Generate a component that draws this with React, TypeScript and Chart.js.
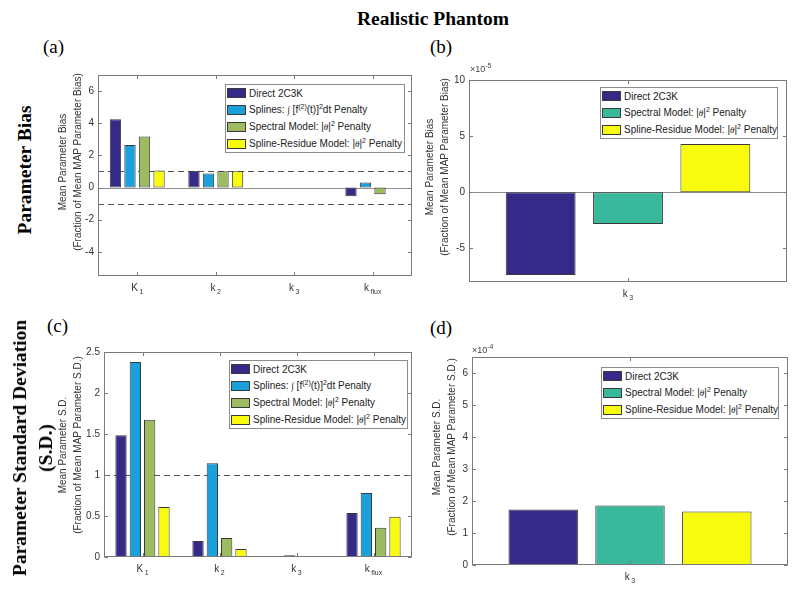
import React, { useEffect, useRef } from "react";
import { Chart, registerables } from "chart.js";
Chart.register(...registerables);

const SANS = '"Liberation Sans", Arial, Helvetica, sans-serif';
const SERIF = '"Liberation Serif", "Times New Roman", Times, serif';

// ---------- data ----------
const categories = ["K_1", "k_2", "k_3", "k_flux"];
const k3Category = ["k_3"];

const seriesNames = [
  "Direct 2C3K",
  "Splines: ∫ [f^{(2)}(t)]^{2}dt Penalty",
  "Spectral Model: |θ|^{2} Penalty",
  "Spline-Residue Model: |θ|^{2} Penalty",
];
const colorDirect = "#352A87";
const colorSplines = "#1AA1DC";
const colorSpectral = "#9DBB61";
const colorSpectralK3 = "#3AB89C";
const colorResidue = "#F9FB0E";

// (a) mean parameter bias
const biasDirect = [4.25, 1.04, -7.38e-5, -0.54];
const biasSplines = [2.65, 0.875, 0, 0.31];
const biasSpectral = [3.17, 1.02, -2.83e-5, -0.42];
const biasResidue = [1.06, 1.02, 4.29e-5, 0];
const biasRefLines = [1, -1];
const biasTicks = [-4, -2, 0, 2, 4, 6];
const biasRange = [-5.5, 7];

// (b) k3 bias
const k3BiasDirect = [-7.38e-5];
const k3BiasSpectral = [-2.83e-5];
const k3BiasResidue = [4.29e-5];
const k3BiasTicks = [-5e-5, 0, 5e-5, 10e-5];
const k3BiasRange = [-8e-5, 10e-5];

// (c) mean parameter S.D.
const sdDirect = [1.484, 0.195, 1.74e-4, 0.537];
const sdSplines = [2.378, 1.142, 0.02, 0.78];
const sdSpectral = [1.675, 0.232, 1.86e-4, 0.358];
const sdResidue = [0.61, 0.098, 1.67e-4, 0.492];
const sdRefLines = [1];
const sdTicks = [0, 0.5, 1, 1.5, 2, 2.5];
const sdRange = [0, 2.5];

// (d) k3 S.D.
const k3SdDirect = [1.736e-4];
const k3SdSpectral = [1.86e-4];
const k3SdResidue = [1.674e-4];
const k3SdTicks = [0, 1e-4, 2e-4, 3e-4, 4e-4, 5e-4, 6e-4];
const k3SdRange = [0, 6.5e-4];

// ---------- layout constants ----------
const AX_W = 50;
const AX_H = 28;
const PAD_T = 12;
const PAD_R = 10;

const axesPlugin = {
  id: "matlabAxes",
  beforeDatasetsDraw(chart: any, _a: any, opts: any) {
    const { ctx, chartArea: a } = chart;
    const y = chart.scales.y;
    ctx.save();
    ctx.lineWidth = 1;
    if (opts.baseline) {
      const py = Math.round(y.getPixelForValue(0)) + 0.5;
      ctx.strokeStyle = "#8f8f8f";
      ctx.beginPath();
      ctx.moveTo(a.left, py);
      ctx.lineTo(a.right, py);
      ctx.stroke();
    }
    ctx.setLineDash([6, 4]);
    ctx.strokeStyle = "#555";
    for (const v of opts.refLines || []) {
      const py = Math.round(y.getPixelForValue(v)) + 0.5;
      ctx.beginPath();
      ctx.moveTo(a.left, py);
      ctx.lineTo(a.right, py);
      ctx.stroke();
    }
    ctx.restore();
  },
  afterDatasetsDraw(chart: any, _a: any, opts: any) {
    const { ctx, chartArea: a } = chart;
    const x = chart.scales.x;
    const y = chart.scales.y;
    ctx.save();
    ctx.strokeStyle = "#7a7a7a";
    ctx.lineWidth = 1;
    const L = Math.round(a.left) + 0.5;
    const R = Math.round(a.right) - 0.5;
    const T = Math.round(a.top) + 0.5;
    const B = Math.round(a.bottom) - 0.5;
    ctx.strokeRect(L, T, R - L, B - T);
    const tl = 3.5;
    ctx.beginPath();
    for (const t of y.ticks) {
      const py = Math.round(y.getPixelForValue(t.value)) + 0.5;
      ctx.moveTo(L, py);
      ctx.lineTo(L + tl, py);
      ctx.moveTo(R, py);
      ctx.lineTo(R - tl, py);
    }
    (chart.data.labels as string[]).forEach((_l: string, i: number) => {
      const px = Math.round(x.getPixelForValue(i)) + 0.5;
      ctx.moveTo(px, B);
      ctx.lineTo(px, B - tl);
      ctx.moveTo(px, T);
      ctx.lineTo(px, T + tl);
    });
    ctx.stroke();

    ctx.fillStyle = "#333";
    ctx.textBaseline = "alphabetic";
    ctx.textAlign = "left";
    (chart.data.labels as string[]).forEach((lab: string, i: number) => {
      const [base, sub] = String(lab).split("_");
      ctx.font = `10px ${SANS}`;
      const wb = ctx.measureText(base).width;
      ctx.font = `7px ${SANS}`;
      const ws = sub ? ctx.measureText(sub).width : 0;
      const gap = sub ? 1.5 : 0;
      const total = wb + gap + ws;
      const x0 = x.getPixelForValue(i) - total / 2;
      const by = a.bottom + 15;
      ctx.font = `10px ${SANS}`;
      ctx.fillText(base, x0, by);
      if (sub) {
        ctx.font = `7px ${SANS}`;
        ctx.fillText(sub, x0 + wb + gap, by + 3);
      }
    });
    ctx.restore();
  },
};

type Series = { name: string; data: number[]; color: string };
type PanelCfg = {
  plot: [number, number, number, number];
  labels: string[];
  series: Series[];
  range: number[];
  ticks: number[];
  tickScale: number;
  refLines: number[];
  baseline: boolean;
  catPct: number;
  barPct: number;
};

function fmtTick(v: number, scale: number) {
  const r = Math.round((v / scale) * 1000) / 1000;
  return String(r);
}

function BarPanel({ cfg }: { cfg: PanelCfg }) {
  const ref = useRef<HTMLCanvasElement>(null);
  const [L, T, W, H] = cfg.plot;
  const cw = W + AX_W + PAD_R;
  const ch = H + PAD_T + AX_H;
  useEffect(() => {
    const chart = new Chart(ref.current as HTMLCanvasElement, {
      type: "bar",
      data: {
        labels: cfg.labels,
        datasets: cfg.series.map((s) => ({
          label: s.name,
          data: s.data,
          backgroundColor: s.color,
          borderColor: "#3a3a3a",
          borderWidth: 1,
          borderSkipped: false,
          categoryPercentage: cfg.catPct,
          barPercentage: cfg.barPct,
        })),
      },
      options: {
        animation: false,
        responsive: false,
        maintainAspectRatio: false,
        devicePixelRatio: 1,
        layout: { padding: { left: 0, top: PAD_T, right: PAD_R, bottom: 0 } },
        plugins: {
          legend: { display: false },
          tooltip: { enabled: false },
          matlabAxes: { refLines: cfg.refLines, baseline: cfg.baseline },
        } as any,
        scales: {
          x: {
            grid: { display: false, drawTicks: false },
            border: { display: false },
            ticks: { display: false },
            afterFit: (s: any) => {
              s.height = AX_H;
            },
          },
          y: {
            min: cfg.range[0],
            max: cfg.range[1],
            grid: { display: false, drawTicks: false },
            border: { display: false },
            ticks: {
              font: { family: SANS, size: 10 },
              color: "#333",
              padding: 4,
              callback: (v: any) => fmtTick(Number(v), cfg.tickScale),
            },
            afterBuildTicks: (s: any) => {
              s.ticks = cfg.ticks.map((v) => ({ value: v }));
            },
            afterFit: (s: any) => {
              s.width = AX_W;
            },
          },
        },
      },
      plugins: [axesPlugin as any],
    });
    return () => chart.destroy();
  }, []);
  return (
    <canvas
      ref={ref}
      width={cw}
      height={ch}
      style={{ position: "absolute", left: L - AX_W, top: T - PAD_T, width: cw, height: ch }}
    />
  );
}

function RichText({ text }: { text: string }) {
  const parts = text.split(/\^\{([^}]*)\}/);
  return (
    <>
      {parts.map((p, i) =>
        i % 2 === 1 ? (
          <span key={i} style={{ fontSize: 7, position: "relative", top: -4 }}>
            {p}
          </span>
        ) : (
          <span key={i}>
            {p.split(/(θ|∫)/).map((q, j) =>
              q === "θ" || q === "∫" ? (
                <i key={j} style={{ fontFamily: SERIF, fontSize: 9 }}>
                  {q}
                </i>
              ) : (
                <span key={j}>{q}</span>
              )
            )}
          </span>
        )
      )}
    </>
  );
}

function Legend({ left, top, width, items }: { left: number; top: number; width: number; items: { name: string; color: string }[] }) {
  const pitch = 16.9;
  const height = 9 + (items.length - 1) * pitch + 9.5;
  return (
    <div
      style={{
        position: "absolute",
        left,
        top,
        width,
        height,
        boxSizing: "border-box",
        border: "1px solid #8c8c8c",
        background: "#fff",
      }}
    >
      {items.map((it, i) => (
        <div
          key={i}
          style={{
            position: "absolute",
            left: 1,
            top: 9 + i * pitch - 1 - 8,
            height: 16,
            display: "flex",
            alignItems: "center",
            whiteSpace: "nowrap",
            font: `10px ${SANS}`,
            color: "#222",
          }}
        >
          <div
            style={{
              width: 19,
              height: 10,
              boxSizing: "border-box",
              background: it.color,
              border: "1px solid #3a3a3a",
              marginRight: 3,
            }}
          />
          <span>
            <RichText text={it.name} />
          </span>
        </div>
      ))}
    </div>
  );
}

function RotText({ cx, cy, lines, style }: { cx: number; cy: number; lines: string[]; style: React.CSSProperties }) {
  return (
    <div
      style={{
        position: "absolute",
        left: cx,
        top: cy,
        transform: "translate(-50%,-50%) rotate(-90deg)",
        whiteSpace: "nowrap",
        textAlign: "center",
        ...style,
      }}
    >
      {lines.map((l, i) => (
        <div key={i}>{l}</div>
      ))}
    </div>
  );
}

function Abs({ left, top, children, style }: { left: number; top: number; children: any; style?: React.CSSProperties }) {
  return <div style={{ position: "absolute", left, top, whiteSpace: "nowrap", ...style }}>{children}</div>;
}

export default function App() {
  const panelA: PanelCfg = {
    plot: [98, 75, 314, 201],
    labels: categories,
    series: [
      { name: seriesNames[0], data: biasDirect, color: colorDirect },
      { name: seriesNames[1], data: biasSplines, color: colorSplines },
      { name: seriesNames[2], data: biasSpectral, color: colorSpectral },
      { name: seriesNames[3], data: biasResidue, color: colorResidue },
    ],
    range: biasRange,
    ticks: biasTicks,
    tickScale: 1,
    refLines: biasRefLines,
    baseline: true,
    catPct: 0.74,
    barPct: 0.78,
  };
  const panelB: PanelCfg = {
    plot: [469, 80, 318, 202],
    labels: k3Category,
    series: [
      { name: seriesNames[0], data: k3BiasDirect, color: colorDirect },
      { name: seriesNames[2], data: k3BiasSpectral, color: colorSpectralK3 },
      { name: seriesNames[3], data: k3BiasResidue, color: colorResidue },
    ],
    range: k3BiasRange,
    ticks: k3BiasTicks,
    tickScale: 1e-5,
    refLines: [],
    baseline: true,
    catPct: 0.824,
    barPct: 0.8,
  };
  const panelC: PanelCfg = {
    plot: [104, 352, 308, 205],
    labels: categories,
    series: [
      { name: seriesNames[0], data: sdDirect, color: colorDirect },
      { name: seriesNames[1], data: sdSplines, color: colorSplines },
      { name: seriesNames[2], data: sdSpectral, color: colorSpectral },
      { name: seriesNames[3], data: sdResidue, color: colorResidue },
    ],
    range: sdRange,
    ticks: sdTicks,
    tickScale: 1,
    refLines: sdRefLines,
    baseline: false,
    catPct: 0.744,
    barPct: 0.79,
  };
  const panelD: PanelCfg = {
    plot: [472, 357, 316, 208],
    labels: k3Category,
    series: [
      { name: seriesNames[0], data: k3SdDirect, color: colorDirect },
      { name: seriesNames[2], data: k3SdSpectral, color: colorSpectralK3 },
      { name: seriesNames[3], data: k3SdResidue, color: colorResidue },
    ],
    range: k3SdRange,
    ticks: k3SdTicks,
    tickScale: 1e-4,
    refLines: [],
    baseline: false,
    catPct: 0.824,
    barPct: 0.8,
  };

  const axisTitle: React.CSSProperties = { font: `10px ${SANS}`, color: "#333", lineHeight: "14.5px" };
  const rowTitle: React.CSSProperties = { font: `bold 19.5px ${SERIF}`, color: "#000", lineHeight: "26px" };
  const panelLabel: React.CSSProperties = { font: `19px ${SERIF}`, color: "#000", lineHeight: "22px" };

  const legend4 = [
    { name: seriesNames[0], color: colorDirect },
    { name: seriesNames[1], color: colorSplines },
    { name: seriesNames[2], color: colorSpectral },
    { name: seriesNames[3], color: colorResidue },
  ];
  const legend3 = [
    { name: seriesNames[0], color: colorDirect },
    { name: seriesNames[2], color: colorSpectralK3 },
    { name: seriesNames[3], color: colorResidue },
  ];

  return (
    <div style={{ position: "absolute", left: 0, top: 0, width: 800, height: 598, background: "#fff", overflow: "hidden" }}>
      <BarPanel cfg={panelA} />
      <BarPanel cfg={panelB} />
      <BarPanel cfg={panelC} />
      <BarPanel cfg={panelD} />

      <div
        style={{
          position: "absolute",
          left: 433,
          top: 19,
          transform: "translate(-50%,-50%)",
          font: `bold 19.5px ${SERIF}`,
          whiteSpace: "nowrap",
        }}
      >
        Realistic Phantom
      </div>

      <Abs left={43} top={36} style={panelLabel}>(a)</Abs>
      <Abs left={430} top={36} style={panelLabel}>(b)</Abs>
      <Abs left={47} top={315} style={panelLabel}>(c)</Abs>
      <Abs left={430} top={317} style={panelLabel}>(d)</Abs>

      <RotText cx={25} cy={170} lines={["Parameter Bias"]} style={rowTitle} />
      <RotText cx={33} cy={448} lines={["Parameter Standard Deviation", "(S.D.)"]} style={rowTitle} />

      <RotText cx={69.5} cy={162} lines={["Mean Parameter Bias", "(Fraction of Mean MAP Parameter Bias)"]} style={axisTitle} />
      <RotText cx={437} cy={167} lines={["Mean Parameter Bias", "(Fraction of Mean MAP Parameter Bias)"]} style={axisTitle} />
      <RotText cx={70} cy={445} lines={["Mean Parameter S.D.", "(Fraction of Mean MAP Parameter S.D.)"]} style={axisTitle} />
      <RotText cx={444} cy={447} lines={["Mean Parameter S.D.", "(Fraction of Mean MAP Parameter S.D.)"]} style={axisTitle} />

      <Abs left={470} top={64} style={{ font: `9px ${SANS}`, color: "#444" }}>
        ×10<span style={{ fontSize: 7, position: "relative", top: -4 }}>-5</span>
      </Abs>
      <Abs left={472} top={345} style={{ font: `9px ${SANS}`, color: "#444" }}>
        ×10<span style={{ fontSize: 7, position: "relative", top: -4 }}>-4</span>
      </Abs>

      <Legend left={225} top={84} width={180} items={legend4} />
      <Legend left={600} top={87} width={178} items={legend3} />
      <Legend left={229} top={360} width={179} items={legend4} />
      <Legend left={601} top={367} width={178} items={legend3} />
    </div>
  );
}
